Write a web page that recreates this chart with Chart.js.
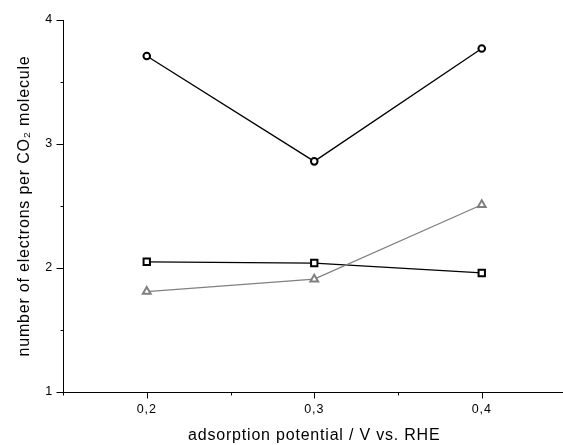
<!DOCTYPE html>
<html>
<head>
<meta charset="utf-8">
<script src="https://cdn.jsdelivr.net/npm/chart.js@4/dist/chart.umd.min.js"></script>
<style>
  html, body { margin: 0; padding: 0; background: #fff; overflow: hidden; }
  #wrap { width: 572px; height: 445px; }
</style>
</head>
<body>
<div id="wrap"><canvas id="chart" width="572" height="445"></canvas></div>
<script>
// potentials (V vs. RHE)
const potentials = [0.2, 0.3, 0.4];
// electrons per CO2 molecule
const circleSeries = [3.71, 2.86, 3.77];
const squareSeries = [2.05, 2.04, 1.96];
const triangleSeries = [1.81, 1.91, 2.51];

const xTickValues = [0.15, 0.2, 0.25, 0.3, 0.35, 0.4, 0.45];
const xMajor = [0.2, 0.3, 0.4];
const yTickValues = [1, 1.5, 2, 2.5, 3, 3.5, 4];
const yMajor = [1, 2, 3, 4];

const toPoints = (vals) => potentials.map((x, i) => ({ x: x, y: vals[i] }));
const isMajor = (list, v) => list.some(m => Math.abs(m - v) < 1e-6);

// the original text is set a bit loose
const spacing = {
  id: 'spacing',
  beforeDraw(chart) { chart.ctx.letterSpacing = '0.8px'; }
};

// draws the axis tick marks: long for major, short for minor (all outward)
const tickMarks = {
  id: 'tickMarks',
  afterDraw(chart) {
    const ctx = chart.ctx;
    const xs = chart.scales.x, ys = chart.scales.y;
    const area = chart.chartArea;
    const bottom = Math.round(area.bottom) + 0.5;
    const left = Math.round(area.left) + 0.5;
    ctx.save();
    ctx.strokeStyle = '#000';
    ctx.lineWidth = 1;
    ctx.beginPath();
    xTickValues.forEach(v => {
      const px = Math.round(xs.getPixelForValue(v)) + 0.5;
      const len = isMajor(xMajor, v) ? 6 : 3;
      ctx.moveTo(px, bottom);
      ctx.lineTo(px, bottom + len);
    });
    yTickValues.forEach(v => {
      const py = Math.round(ys.getPixelForValue(v)) + 0.5;
      const len = isMajor(yMajor, v) ? 7 : 3;
      ctx.moveTo(left, py);
      ctx.lineTo(left - len, py);
    });
    ctx.stroke();
    ctx.restore();
  }
};

const fontFamily = '"Liberation Sans", Arial, sans-serif';

new Chart(document.getElementById('chart'), {
  type: 'line',
  data: {
    datasets: [
      {
        data: toPoints(triangleSeries),
        borderColor: '#808080',
        backgroundColor: '#fff',
        borderWidth: 1.3,
        pointStyle: 'triangle',
        pointRadius: 4.5,
        pointBorderWidth: 2,
        pointBorderColor: '#808080',
        pointBackgroundColor: '#fff'
      },
      {
        data: toPoints(squareSeries),
        borderColor: '#000',
        backgroundColor: '#fff',
        borderWidth: 1.3,
        pointStyle: 'rect',
        pointRadius: 4.5,
        pointBorderWidth: 2,
        pointBorderColor: '#000',
        pointBackgroundColor: '#fff'
      },
      {
        data: toPoints(circleSeries),
        borderColor: '#000',
        backgroundColor: '#fff',
        borderWidth: 1.3,
        pointStyle: 'circle',
        pointRadius: 3.3,
        pointBorderWidth: 2,
        pointBorderColor: '#000',
        pointBackgroundColor: '#fff'
      }
    ]
  },
  options: {
    responsive: false,
    animation: false,
    layout: { padding: { top: 20, right: 6, left: 0, bottom: 0 } },
    plugins: { legend: { display: false }, tooltip: { enabled: false } },
    scales: {
      x: {
        type: 'linear',
        min: 0.15,
        max: 0.45,
        afterBuildTicks(scale) { scale.ticks = xTickValues.map(v => ({ value: v })); },
        afterFit(scale) { scale.height = 53; },
        grid: { display: false, drawTicks: true, tickLength: 6 },
        border: { display: true, color: '#000', width: 1 },
        ticks: {
          autoSkip: false,
          maxRotation: 0,
          padding: 4,
          color: '#000',
          font: { family: fontFamily, size: 12.5 },
          callback: (v) => isMajor(xMajor, v) ? String(Math.round(v * 10) / 10).replace('.', ',') : ''
        },
        title: {
          display: true,
          text: 'adsorption potential / V vs. RHE',
          color: '#000',
          font: { family: fontFamily, size: 16 },
          padding: { top: 0, bottom: 0 }
        }
      },
      y: {
        type: 'linear',
        min: 1,
        max: 4,
        afterBuildTicks(scale) { scale.ticks = yTickValues.map(v => ({ value: v })); },
        afterFit(scale) { scale.width = 63; },
        grid: { display: false, drawTicks: true, tickLength: 7 },
        border: { display: true, color: '#000', width: 1 },
        ticks: {
          autoSkip: false,
          padding: 3,
          color: '#000',
          font: { family: fontFamily, size: 12.5 },
          callback: (v) => isMajor(yMajor, v) ? String(v) : ''
        },
        title: {
          display: true,
          text: 'number of electrons per CO\u2082 molecule',
          color: '#000',
          font: { family: fontFamily, size: 16 },
          padding: { top: 15, bottom: 0 }
        }
      }
    }
  },
  plugins: [spacing, tickMarks]
});
</script>
</body>
</html>
